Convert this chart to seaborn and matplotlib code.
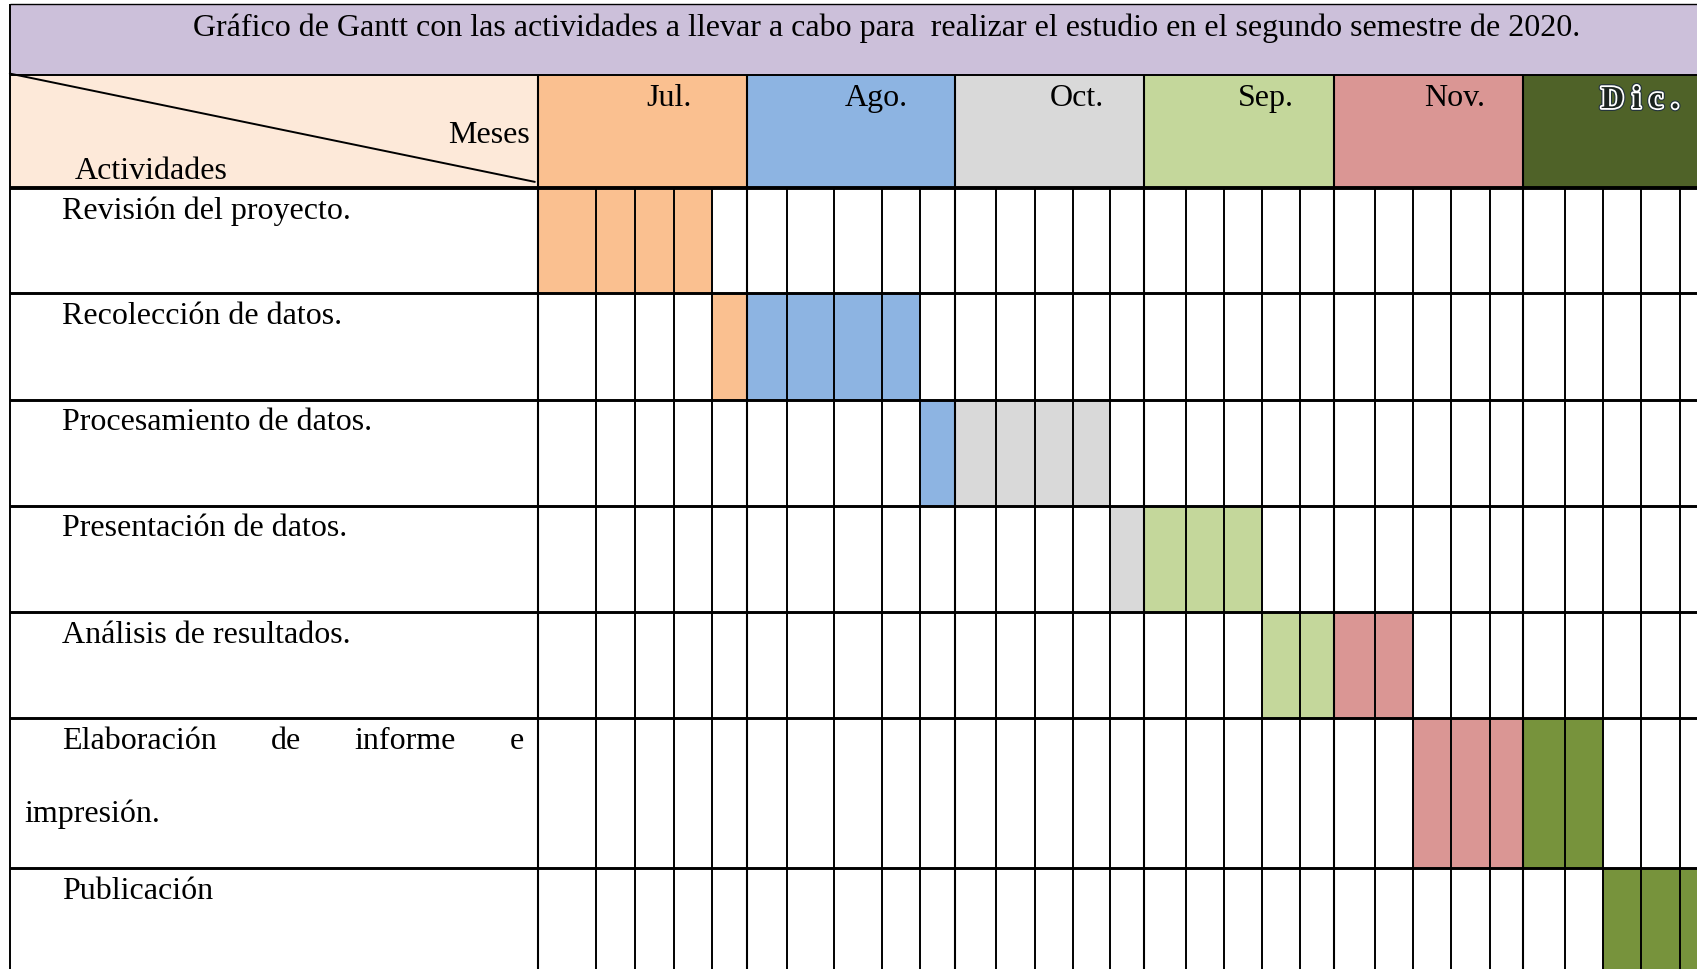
import numpy as np
import matplotlib
matplotlib.use("Agg")
import matplotlib.pyplot as plt
import matplotlib.transforms as mtransforms
import matplotlib.patheffects as pe
from matplotlib.font_manager import FontProperties
import seaborn as sns

# ---------------- data ----------------
TITLE = ("Gráfico de Gantt con las actividades a llevar a cabo para  "
         "realizar el estudio en el segundo semestre de 2020.")
CORNER_TOP_LABEL = "Meses"
CORNER_BOTTOM_LABEL = "Actividades"
MONTHS = ["Jul.", "Ago.", "Oct.", "Sep.", "Nov.", "Dic."]
WEEKS_PER_MONTH = [5, 5, 5, 5, 5, 5]
ACTIVITIES = ["Revisión del proyecto.", "Recolección de datos.",
              "Procesamiento de datos.", "Presentación de datos.",
              "Análisis de resultados.", "Elaboración de informe e impresión.",
              "Publicación"]
START_WEEK = [0, 4, 9, 14, 18, 22, 27]
DURATION_WEEKS = [4, 5, 5, 4, 4, 5, 3]

# ---------------- style ----------------
TITLE_BG = "#CCC0DA"
CORNER_BG = "#FDE9D9"
MONTH_HEADER_COLORS = ["#FAC090", "#8DB4E2", "#D9D9D9", "#C4D79B", "#DA9694", "#4F6228"]
MONTH_BAR_COLORS = ["#FAC090", "#8DB4E2", "#D9D9D9", "#C4D79B", "#DA9694", "#77933C"]
SERIF = ["Liberation Serif", "DejaVu Serif"]

# ---------------- layout (pixels of the 1697x970 canvas) ----------------
W, H, DPI = 1697, 970, 100
COL_EDGES_PX = [9.8, 538.0, 596.3, 635.3, 674.3, 712.2, 746.8, 786.8, 834.5, 882.0, 920.0,
                954.6, 995.7, 1034.7, 1072.6, 1110.4, 1144.0, 1186.0, 1224.0, 1262.0, 1300.0,
                1334.5, 1374.6, 1412.8, 1451.2, 1490.1, 1523.5, 1565.0, 1603.2, 1641.5,
                1679.7, 1719.0]
ROW_EDGES_PX = [5.0, 76.0, 188.5, 294.4, 400.5, 506.5, 612.6, 718.6, 869.0, 975.0]
TITLE_TARGET_WIDTH_PX = 1386
TITLE_POS_PX = (887, 36)
MESES_POS_PX = (529.5, 143)
ACTIV_POS_PX = (75, 179)
BASELINE_OFFSET = 30
LINE_STEP = 73
TEXT_LEFT_FIRST = 62.5
TEXT_LEFT_REST = 24.0
TEXT_RIGHT = 524.0
MONTH_LABEL_SHIFT = [27, 26, 28, 26.5, 26, 19]

sns.set_theme(style="white")
plt.rcParams["font.family"] = SERIF

fig = plt.figure(figsize=(W / DPI, H / DPI), dpi=DPI)
fig.patch.set_facecolor("white")
ax = fig.add_axes([COL_EDGES_PX[0] / W, 0, (W - COL_EDGES_PX[0]) / W, (H - ROW_EDGES_PX[0]) / H])
ax.set_facecolor("none")

xk = np.arange(-1, len(COL_EDGES_PX) - 1, dtype=float)
yk = np.arange(-2, len(ROW_EDGES_PX) - 2, dtype=float)
fx = lambda v: np.interp(v, xk, COL_EDGES_PX)
ix = lambda p: np.interp(p, COL_EDGES_PX, xk)
fy = lambda v: np.interp(v, yk, ROW_EDGES_PX)
iy = lambda p: np.interp(p, ROW_EDGES_PX, yk)
ax.set_xscale("function", functions=(fx, ix))
ax.set_yscale("function", functions=(fy, iy))

n_weeks = int(sum(WEEKS_PER_MONTH))
n_rows = len(ACTIVITIES)
month_start = np.concatenate([[0], np.cumsum(WEEKS_PER_MONTH)[:-1]])
week_month = np.repeat(np.arange(len(MONTHS)), WEEKS_PER_MONTH)

# title band, corner cell, month header cells
ax.barh(-1.5, n_weeks + 2, left=-1, height=1, color=TITLE_BG, linewidth=0)
ax.barh(-0.5, 1, left=-1, height=1, color=CORNER_BG, linewidth=0)
ax.barh([-0.5] * len(MONTHS), WEEKS_PER_MONTH, left=month_start, height=1,
        color=MONTH_HEADER_COLORS, linewidth=0)

# activity week cells
cy, cx, cc = [], [], []
for i, (s, d) in enumerate(zip(START_WEEK, DURATION_WEEKS)):
    for w in range(s, s + d):
        cy.append(i + 0.5)
        cx.append(w)
        cc.append(MONTH_BAR_COLORS[week_month[w]])
ax.barh(cy, 1, left=cx, height=1, color=cc, linewidth=0)

# grid lines
yb = n_rows + 1
kw = dict(color="black", clip_on=False)
ax.vlines(-1, -2, yb, lw=1.4, **kw)
ax.vlines(np.r_[0, month_start[1:]], -1, yb, lw=1.5, **kw)
ax.vlines(np.arange(1, n_weeks + 1), 0, yb, lw=1.4, **kw)
ax.hlines(-2, -1, n_weeks + 1, lw=1.0, **kw)
ax.hlines(-1, -1, n_weeks + 1, lw=1.4, **kw)
ax.hlines(0, -1, n_weeks + 1, lw=2.8, **kw)
ax.hlines(np.arange(1, n_rows + 1), -1, n_weeks + 1, lw=2.1, **kw)
ax.plot([-1, -0.006], [-1.02, -0.05], color="black", lw=1.4, clip_on=False)

ax.set_xlim(-1, float(ix(W)))
ax.set_ylim(float(iy(H)), -2)
ax.axis("off")

# ---------------- text ----------------
px = mtransforms.Affine2D().scale(1 / W, -1 / H).translate(0, 1) + fig.transFigure
renderer = fig.canvas.get_renderer()


def text_w(s, size):
    prop = FontProperties(family=SERIF, size=size)
    w, h, d = renderer.get_text_width_height_descent(s, prop, ismath=False)
    return w


FS = 20 * TITLE_TARGET_WIDTH_PX / text_w(TITLE, 20)
tkw = dict(transform=px, fontsize=FS, color="black", va="baseline", family=SERIF)

fig.text(TITLE_POS_PX[0], TITLE_POS_PX[1], TITLE, ha="center", **tkw)
fig.text(MESES_POS_PX[0], MESES_POS_PX[1], CORNER_TOP_LABEL, ha="right", **tkw)
fig.text(ACTIV_POS_PX[0], ACTIV_POS_PX[1], CORNER_BOTTOM_LABEL, ha="left", **tkw)

header_base = ROW_EDGES_PX[1] + BASELINE_OFFSET
for m, name in enumerate(MONTHS):
    s = month_start[m]
    cxp = (float(fx(s)) + float(fx(s + WEEKS_PER_MONTH[m]))) / 2 + MONTH_LABEL_SHIFT[m]
    col = MONTH_HEADER_COLORS[m]
    r, g, b = matplotlib.colors.to_rgb(col)
    if 0.3 * r + 0.59 * g + 0.11 * b < 0.45:
        # outlined ("hollow") lettering on the dark header cell
        t = fig.text(cxp, header_base + 3, " ".join(name), ha="center",
                     **{**tkw, "color": "#1B2420"})
        t.set_fontweight("bold")
        t.set_path_effects([pe.Stroke(linewidth=4.2, foreground="#22323C"),
                            pe.Stroke(linewidth=2.6, foreground="white"),
                            pe.Normal()])
    else:
        fig.text(cxp, header_base, name, ha="center", **tkw)

space_w = text_w("a a", FS) - text_w("aa", FS)


def draw_cell_text(text, top_px):
    words = text.split()
    widths = [text_w(w_, FS) for w_ in words]
    lines, cur, curw = [], [], []
    avail = TEXT_RIGHT - TEXT_LEFT_FIRST
    for wd, ww in zip(words, widths):
        if cur and sum(curw) + space_w * len(cur) + ww > avail:
            lines.append((cur, curw, avail))
            cur, curw = [], []
            avail = TEXT_RIGHT - TEXT_LEFT_REST
        cur.append(wd)
        curw.append(ww)
    lines.append((cur, curw, avail))
    for k, (lw_, lww, av) in enumerate(lines):
        left = TEXT_LEFT_FIRST if k == 0 else TEXT_LEFT_REST
        base = top_px + BASELINE_OFFSET + k * LINE_STEP
        if k < len(lines) - 1 and len(lw_) > 1:
            gap = (av - sum(lww)) / (len(lw_) - 1)
            x = left
            for wd, ww in zip(lw_, lww):
                fig.text(x, base, wd, ha="left", **tkw)
                x += ww + gap
        else:
            fig.text(left, base, " ".join(lw_), ha="left", **tkw)


for i, act in enumerate(ACTIVITIES):
    draw_cell_text(act, float(fy(i)))

fig.savefig("out.png", dpi=DPI, facecolor="white")
